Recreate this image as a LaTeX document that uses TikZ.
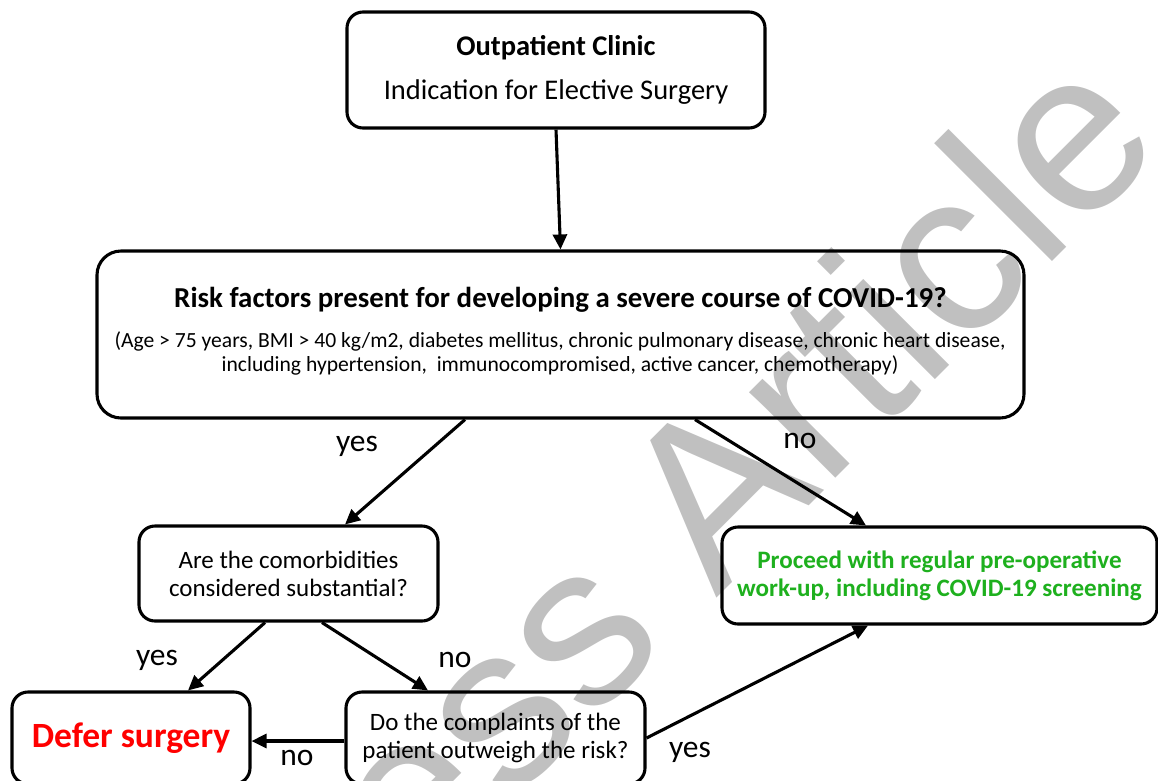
\documentclass[tikz,border=0pt]{standalone}
\usepackage{fontspec}
\setmainfont{Carlito}
\newfontfamily\markfont{Liberation Sans}
\usepackage{xcolor}
\usetikzlibrary{arrows.meta}

\definecolor{goon}{RGB}{30,176,30}
\definecolor{markgray}{RGB}{192,192,192}
\tikzset{
    box/.style={draw, line width=3.1pt, rounded corners=16pt, align=center, inner sep=0pt},
    arr/.style={line width=3.1pt, -{Triangle[length=15pt,width=14pt]}},
    lbl/.style={font=\fontsize{31.5}{34}\selectfont}
}

\begin{document}
\begin{tikzpicture}[x=1pt,y=-1pt]
    \useasboundingbox (0,0) rectangle (1158,780);
    \clip (0,0) rectangle (1158,780);

    % watermark behind everything
    \node [rotate=45, text=markgray, font=\markfont\fontsize{230}{230}\selectfont] (mark) at (735,463) {ess Article};

    \node [box, minimum width=418pt, minimum height=116pt, font=\fontsize{28.5}{34}\selectfont] (clinic) at (556,70)
        {\textbf{Outpatient Clinic}\\[10pt]Indication for Elective Surgery};

    \node [box, rounded corners=24pt, minimum width=927pt, minimum height=167pt] (risk) at (560.5,334.5) {};
    \node [font=\fontsize{28.9}{32}\selectfont\bfseries] (riskhead) at (560.5,300)
        {Risk factors present for developing a severe course of COVID-19?};
    \node [align=center, font=\fontsize{21.6}{24}\selectfont] (risknote) at (560,353)
        {(Age > 75 years, BMI > 40 kg/m2, diabetes mellitus, chronic pulmonary disease, chronic heart disease,\\
         including hypertension,\ \ immunocompromised, active cancer, chemotherapy)};

    \node [box, minimum width=299pt, minimum height=95pt, font=\fontsize{25}{28}\selectfont] (comorb) at (288.5,573.5)
        {Are the comorbidities\\considered substantial?};
    \node [box, minimum width=435pt, minimum height=97pt, text=goon, font=\fontsize{25.1}{28}\selectfont\bfseries] (proceed) at (939.5,575.5)
        {Proceed with regular pre-operative\\work-up, including COVID-19 screening};
    \node [box, minimum width=238pt, minimum height=92pt, text=red, font=\fontsize{35.5}{40}\selectfont\bfseries] (defer) at (131,738)
        {Defer surgery};
    \node [box, minimum width=299pt, minimum height=92pt, font=\fontsize{25}{28}\selectfont] (complain) at (495.5,738)
        {Do the complaints of the\\patient outweigh the risk?};

    \draw [arr] (clinic.south) -- (risk.north);
    \draw [arr] ([xshift=-95.5pt]risk.south) -- ([xshift=56.5pt]comorb.north);
    \draw [arr] ([xshift=134.5pt]risk.south) -- ([xshift=-73.5pt]proceed.north);
    \draw [arr] ([xshift=-23.5pt]comorb.south) -- ([xshift=57pt]defer.north);
    \draw [arr] ([xshift=33.5pt]comorb.south) -- ([xshift=-67.5pt]complain.north);
    \draw [arr] ([yshift=-3pt]complain.west) -- ([yshift=-3pt]defer.east);
    \draw [arr] (complain.east) -- ([xshift=-71.5pt]proceed.south);

    \node [lbl] (yes1) at (357,446) {yes};
    \node [lbl] (no1) at (800,441) {no};
    \node [lbl] (yes2) at (157,660) {yes};
    \node [lbl] (no2) at (455,660) {no};
    \node [lbl] (no3) at (297,758) {no};
    \node [lbl] (yes3) at (690,752) {yes};
\end{tikzpicture}
\end{document}
